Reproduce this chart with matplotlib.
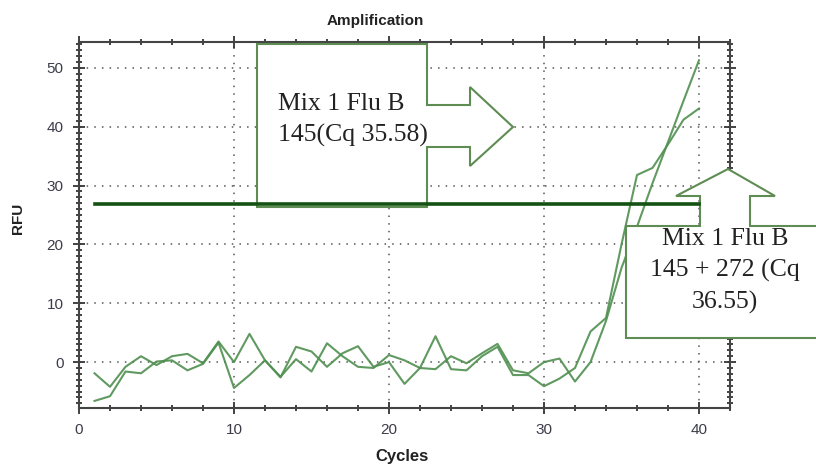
import matplotlib
matplotlib.use("Agg")
import matplotlib.pyplot as plt
from matplotlib.patches import Polygon
from matplotlib.ticker import MultipleLocator
from matplotlib.transforms import Affine2D

# qPCR amplification curves, cycles 1-40
cycles = list(range(1, 41))
rfu_a = [-1.9, -4.2, -0.8, 1.0, -0.5, 1.0, 1.4, -0.2, 3.5, 0.0,
         4.8, 0.3, -2.6, 2.6, 1.8, -0.8, 1.5, 2.7, -0.8, 0.0,
         -3.7, -1.0, 4.4, -1.2, -1.4, 1.0, 2.6, -2.2, -2.2, -4.1,
         -2.8, -1.0, 5.2, 7.5, 20.0, 31.8, 33.0, 37.0, 41.2, 43.1]
rfu_b = [-6.6, -5.8, -1.6, -1.9, 0.1, 0.3, -1.4, -0.3, 3.3, -4.4,
         -2.2, 0.3, -2.5, 0.5, -1.6, 3.2, 1.0, -0.8, -1.0, 1.2,
         0.3, -1.0, -1.2, 1.0, -0.2, 1.5, 3.1, -1.4, -1.9, 0.0,
         0.6, -3.3, 0.0, 7.0, 16.0, 23.0, 30.4, 37.4, 44.4, 51.3]
threshold = 26.9
threshold_span = [1, 40]

label_1 = "Mix 1 Flu B\n145(Cq 35.58)"
label_2 = "Mix 1 Flu B\n145 + 272 (Cq\n36.55)"

W, H = 816, 466
fig = plt.figure(figsize=(W / 100, H / 100), dpi=100)
ax = fig.add_axes([79 / W, 1 - 408 / H, (730 - 79) / W, (408 - 42) / H])

curve_col = "#4f8f4f"
ax.plot(cycles, rfu_a, color=curve_col, lw=1.5, alpha=0.9, zorder=2)
ax.plot(cycles, rfu_b, color=curve_col, lw=1.5, alpha=0.9, zorder=2)
ax.plot(threshold_span, [threshold, threshold], color="#145214", lw=2.6, zorder=3.5)

ax.set_xlim(0, 42)
ax.set_ylim(-7.8, 54.4)
ax.xaxis.set_major_locator(MultipleLocator(10))
ax.xaxis.set_minor_locator(MultipleLocator(2))
ax.yaxis.set_major_locator(MultipleLocator(10))
ax.yaxis.set_minor_locator(MultipleLocator(1))
ax.grid(True, which="major", linestyle=(0, (1, 4)), color="#555555", lw=1.1)
ax.tick_params(which="both", direction="inout", top=True, right=True,
               colors="#222222", width=1.2)
ax.tick_params(which="major", length=8, labelsize=11, pad=7,
               labelcolor="#3c3c4a")
ax.tick_params(which="minor", length=5)
for lab in ax.get_xticklabels() + ax.get_yticklabels():
    lab.set_family("Liberation Sans")
for sp in ax.spines.values():
    sp.set_color("#444444")
    sp.set_linewidth(1.5)

fig.text(375 / W, 1 - 21 / H, "Amplification", ha="center", va="center",
         fontsize=11, fontweight="bold", family="Liberation Sans", color="#222222")
fig.text(402 / W, 1 - 457 / H, "Cycles", ha="center", va="center",
         fontsize=12, fontweight="bold", family="Liberation Sans", color="#222222")
fig.text(18 / W, 1 - 218 / H, "RFU", ha="center", va="center", rotation=90,
         fontsize=11, fontweight="bold", family="Liberation Sans", color="#222222")

# callout boxes, placed in figure pixel coordinates
px = Affine2D().scale(1 / W, -1 / H).translate(0, 1) + fig.transFigure
box_1 = [(257, 44), (427, 44), (427, 105), (470, 105), (470, 87), (513, 127),
         (470, 166), (470, 147), (427, 147), (427, 207), (257, 207)]
box_2 = [(626, 226), (700, 226), (700, 196), (676, 196), (728, 169), (775, 196),
         (750, 196), (750, 226), (830, 226), (830, 338), (626, 338)]
for pts in (box_1, box_2):
    ax.add_patch(Polygon(pts, closed=True, facecolor="white", edgecolor="#5e8c52",
                         lw=1.5, transform=px, clip_on=False, zorder=3))

ax.text(278, 120, label_1, transform=px, ha="left", va="center",
        fontsize=18.5, family="Liberation Serif", color="#222222",
        linespacing=1.5, zorder=4, clip_on=False)
ax.text(725, 271, label_2, transform=px, ha="center", va="center",
        multialignment="center", fontsize=18.5, family="Liberation Serif",
        color="#222222", linespacing=1.5, zorder=4, clip_on=False)

fig.savefig("out.png", dpi=100)
